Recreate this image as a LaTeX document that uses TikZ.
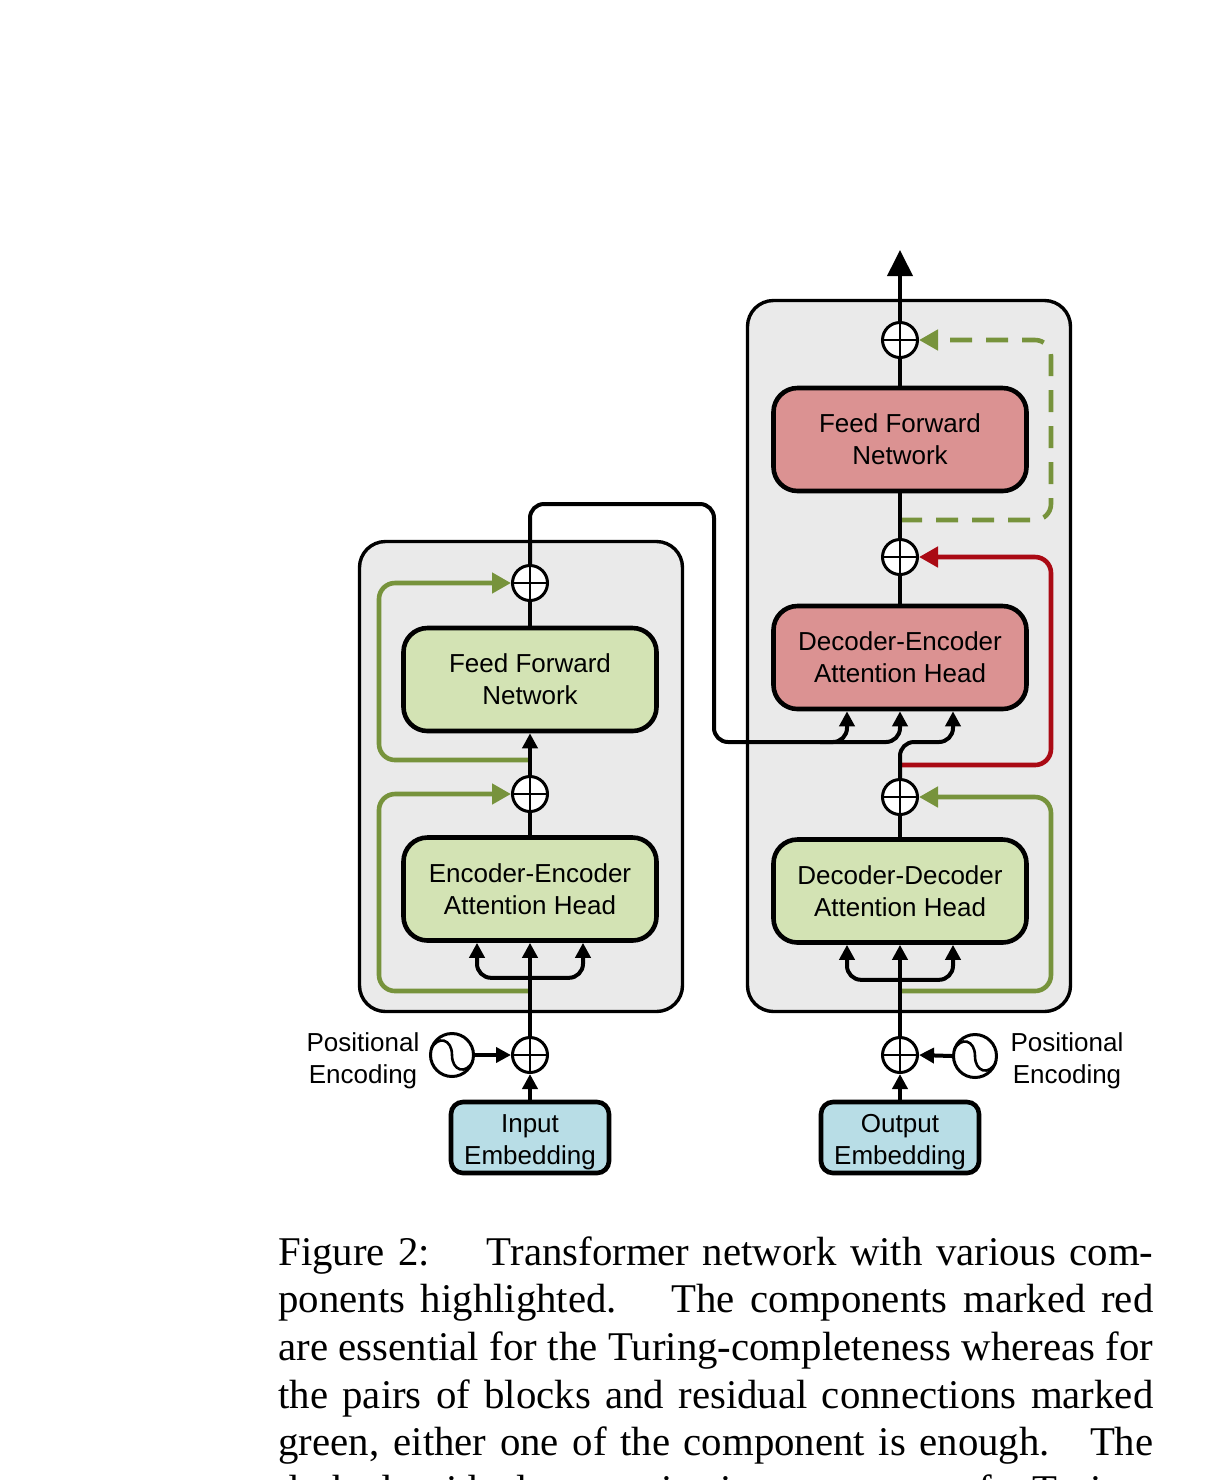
\documentclass[tikz,border=0pt]{standalone}
\usepackage{fontspec}
\setmainfont{Liberation Serif}
\newfontfamily\arialf{Liberation Sans}
\usetikzlibrary{arrows.meta}
\definecolor{bggray}{RGB}{234,234,234}
\definecolor{fgreen}{RGB}{211,227,180}
\definecolor{fred}{RGB}{219,146,146}
\definecolor{fblue}{RGB}{184,221,230}
\definecolor{lgreen}{RGB}{119,147,60}
\definecolor{lred}{RGB}{170,10,20}
\tikzset{
  container/.style={draw, line width=1.7pt, rounded corners=13pt, fill=bggray, minimum width=161.5pt, minimum height=235pt, inner sep=0pt},
  block/.style={draw, line width=2.3pt, rounded corners=12pt, minimum width=126.5pt, minimum height=51.5pt, align=center, inner sep=0pt, font=\arialf\fontsize{13pt}{16pt}\selectfont},
  greenblk/.style={block, fill=fgreen},
  redblk/.style={block, fill=fred},
  embed/.style={draw, line width=2.3pt, rounded corners=6pt, fill=fblue, minimum width=79pt, minimum height=35.5pt, inner sep=0pt},
  plus/.style={circle, draw, line width=1.5pt, fill=white, minimum size=17.5pt, inner sep=0pt,
    path picture={\draw[line width=1.2pt] (path picture bounding box.north) -- (path picture bounding box.south) (path picture bounding box.west) -- (path picture bounding box.east);}},
  pecirc/.style={circle, draw, line width=1.5pt, fill=white, minimum size=21.5pt, inner sep=0pt},
  lbl/.style={align=center, inner sep=0pt, font=\arialf\fontsize{13pt}{16pt}\selectfont},
  conn/.style={draw=black, line width=2pt, rounded corners=7pt},
  arr/.style={-{Triangle[width=7.5pt,length=7.5pt]}},
  arrboth/.style={{Triangle[width=7.5pt,length=7.5pt]}-{Triangle[width=7.5pt,length=7.5pt]}},
  bigarr/.style={-{Triangle[width=12.5pt,length=13pt]}},
  gline/.style={draw=lgreen, line width=2.3pt, rounded corners=8pt},
  rline/.style={draw=lred, line width=2.3pt, rounded corners=8pt},
  garr/.style={-{Triangle[width=10pt,length=9.5pt]}},
  capline/.style={anchor=base west, inner sep=0pt, font=\fontsize{20.4pt}{24pt}\selectfont}
}
\begin{document}
\begin{tikzpicture}[x=0.5pt,y=-0.5pt]
\useasboundingbox (0,0) rectangle (1216,1480);
% containers
\node[container, minimum height=235pt] (encbox) at (521,776.5) {};
\node[container, minimum height=355.5pt] (decbox) at (909,656) {};
% blocks
\node[greenblk] (encff) at (530,679.5) {Feed Forward\\Network};
\node[greenblk] (encatt) at (530,889) {Encoder-Encoder\\Attention Head};
\node[redblk] (decff) at (900,439.5) {Feed Forward\\Network};
\node[redblk] (decenc) at (900,657.5) {Decoder-Encoder\\Attention Head};
\node[greenblk] (decdec) at (900,891) {Decoder-Decoder\\Attention Head};
\node[embed, label={[lbl, yshift=-2.5pt]center:Input\\Embedding}] (inemb) at (530,1137.5) {};
\node[embed, label={[lbl, yshift=-2.5pt]center:Output\\Embedding}] (outemb) at (900,1137.5) {};
% plus circles
\node[plus] (pL0) at (530,1055) {};
\node[plus] (pL1) at (530,794) {};
\node[plus] (pL2) at (530,583) {};
\node[plus] (pR0) at (900,1055) {};
\node[plus] (pR1) at (900,797) {};
\node[plus] (pR2) at (900,557) {};
\node[plus] (pR3) at (900,340) {};
% positional encodings
\node[pecirc] (peL) at (452,1055) {};
\node[pecirc] (peR) at (975,1056) {};
\foreach \pe in {peL,peR}{
  \begin{scope}[shift={(\pe.center)}, x=1pt, y=1pt]
    \draw[line width=1.3pt] (-10.5,3) .. controls (-7,10) and (0,8) .. (0,0) .. controls (0,-8) and (7,-10) .. (10.5,-3);
  \end{scope}
}
\node[lbl] (peLlbl) at (363,1061) {Positional\\Encoding};
\node[lbl] (peRlbl) at (1067,1061) {Positional\\Encoding};
% named free ends
\coordinate (gL1s) at (530,991);
\coordinate (gL2s) at (530,760);
\coordinate (gR1s) at (900,991);
\coordinate (rRs) at (900,765);
\coordinate (gR3s) at (900,520);
\coordinate (outtop) at (900,250);
% residual connections
\draw[gline,garr] (gL1s) -| (379,794) -- (pL1.west);
\draw[gline,garr] (gL2s) -| (379,583) -- (pL2.west);
\draw[gline,garr] (gR1s) -| (1051,797) -- (pR1.east);
\draw[rline,garr] (rRs) -| (1051,557) -- (pR2.east);
\draw[gline,garr,dash pattern=on 11pt off 7pt] (gR3s) -| (1051,340) -- (pR3.east);
% encoder
\draw[conn,arr] (inemb.north) -- (pL0.south);
\draw[conn,arr] (peL.east) -- (pL0.west);
\draw[conn,arr] (pL0.north) -- (encatt.south);
\draw[conn,arrboth] ([xshift=-26.5pt]encatt.south) -- ++(0,35) -- ++(106,0) -- ++(0,-35);
\draw[conn] (encatt.north) -- (pL1.south);
\draw[conn,arr] (pL1.north) -- (encff.south);
\draw[conn] (encff.north) -- (pL2.south);
\draw[conn,arr] (pL2.north) |- (714,504) -- (714,742) -- (847,742) -- ([xshift=-26.5pt]decenc.south);
\draw[conn,arr] (820,742) -- (900,742) -- (decenc.south);
% decoder
\draw[conn,arr] (outemb.north) -- (pR0.south);
\draw[conn,arr] (peR.west) -- (pR0.east);
\draw[conn,arr] (pR0.north) -- (decdec.south);
\draw[conn,arrboth] ([xshift=-26.5pt]decdec.south) -- ++(0,35) -- ++(106,0) -- ++(0,-35);
\draw[conn] (decdec.north) -- (pR1.south);
\draw[conn,arr] (pR1.north) |- (953,742) -- ([xshift=26.5pt]decenc.south);
\draw[conn] (decenc.north) -- (pR2.south);
\draw[conn] (pR2.north) -- (decff.south);
\draw[conn] (decff.north) -- (pR3.south);
\draw[conn,bigarr] (pR3.north) -- (outtop);
% caption
\node[capline] (c1) at (278,1265) {\makebox[437.5pt][s]{Figure 2:\hspace{0.9em} Transformer network with various com-}};
\node[capline] (c2) at (278,1312.7) {\makebox[437.5pt][s]{ponents highlighted.\hspace{0.6em} The components marked red}};
\node[capline] (c3) at (278,1360.4) {\makebox[437.5pt][s]{are essential for the Turing-completeness whereas for}};
\node[capline] (c4) at (278,1408.1) {\makebox[437.5pt][s]{the pairs of blocks and residual connections marked}};
\node[capline] (c5) at (278,1455.8) {\makebox[437.5pt][s]{green, either one of the component is enough.\hspace{0.4em} The}};
\node[capline] (c6) at (278,1503.5) {\makebox[437.5pt][s]{dashed residual connection is not necessary for Turing-}};
\end{tikzpicture}
\end{document}
